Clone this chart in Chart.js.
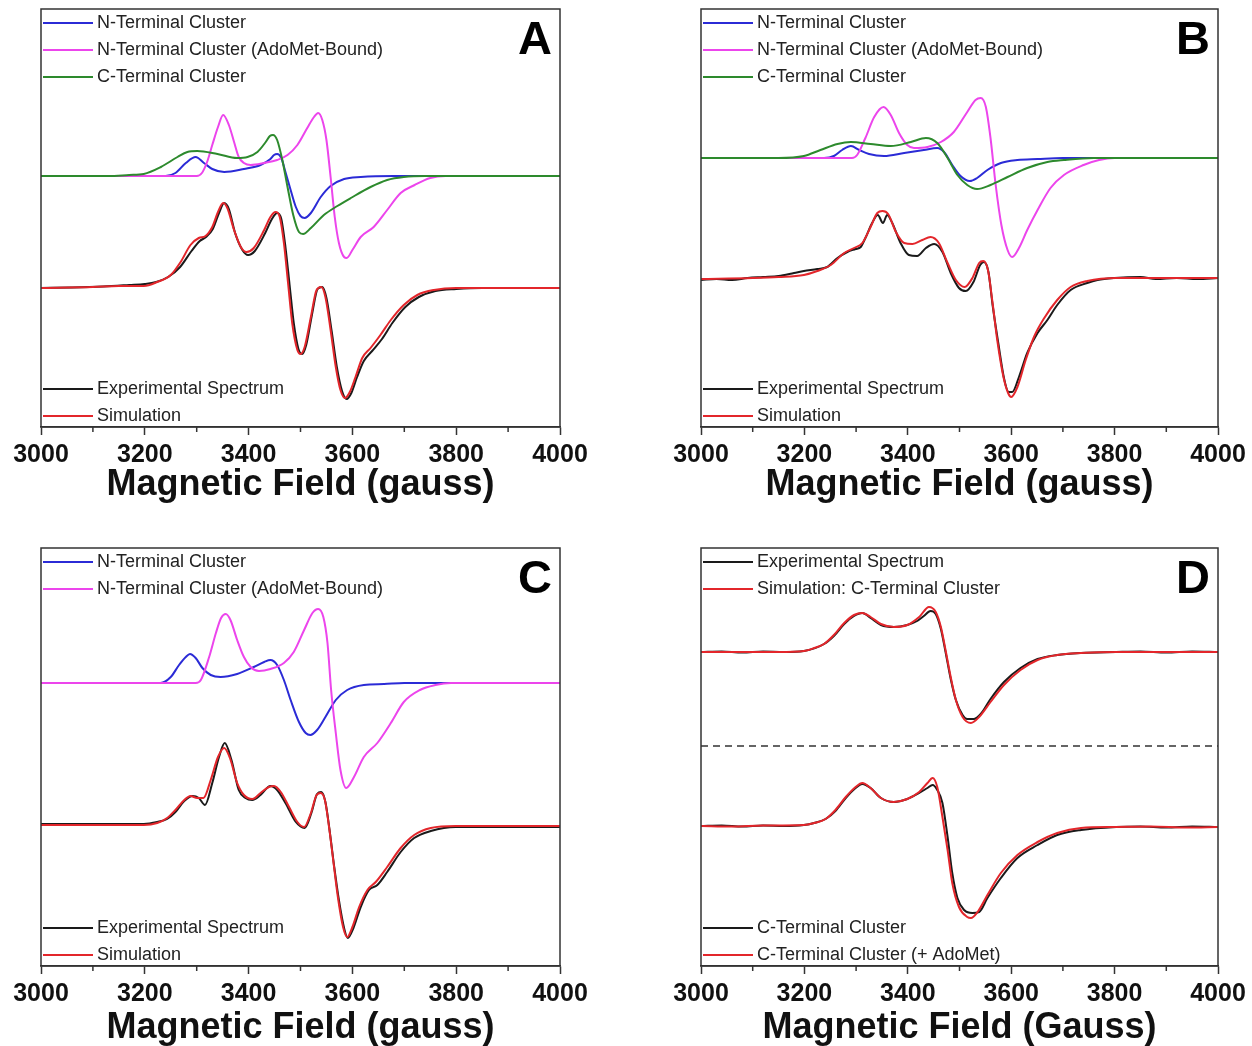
<!DOCTYPE html>
<html>
<head>
<meta charset="utf-8">
<script src="https://cdn.jsdelivr.net/npm/chart.js@4.4.0/dist/chart.umd.min.js"></script>
<style>
  html, body { margin: 0; padding: 0; background: #fff; width: 1252px; height: 1046px; overflow: hidden; }
  .panel { position: absolute; width: 626px; height: 523px; }
</style>
</head>
<body>
<div class="panel" style="left:0;top:0"><canvas id="chartA" width="626" height="523"></canvas></div>
<div class="panel" style="left:626px;top:0"><canvas id="chartB" width="626" height="523"></canvas></div>
<div class="panel" style="left:0;top:539px"><canvas id="chartC" width="626" height="523"></canvas></div>
<div class="panel" style="left:626px;top:539px"><canvas id="chartD" width="626" height="523"></canvas></div>
<script>
// field axis (gauss)
const fieldMin = 3000;
const fieldMax = 4000;
const fieldLabels = [3000, 3200, 3400, 3600, 3800, 4000];

// colours
const BLUE = '#2b2bd6';
const MAGENTA = '#ec45ec';
const GREEN = '#2d8a2d';
const RED = '#e3262b';
const BLACK = '#1a1a1a';

// Panel A  -  [field, signal] pairs, signal in arbitrary units (box height = 418)
const aBlue = [[3000,251],[3240,251],[3259,254],[3279,264],[3298,270],[3314,264],[3330,258],[3353,255],[3391,258],[3423,262],[3442,268],[3449,272],[3455,273],[3463,269],[3471,255],[3481,237],[3491,220],[3500,211],[3508,209],[3520,214],[3539,230],[3558,241],[3584,248],[3616,250],[3680,251],[4000,251]];
const aMagenta = [[3000,251],[3300,251],[3310,254],[3320,265],[3330,282],[3341,300],[3351,312],[3362,302],[3372,285],[3381,270],[3391,264],[3404,262],[3430,264],[3455,267],[3475,272],[3494,282],[3513,299],[3526,310],[3534,314],[3542,307],[3550,287],[3558,250],[3566,210],[3574,184],[3584,170],[3589,169],[3600,177],[3616,190],[3641,200],[3667,217],[3693,234],[3720,242],[3750,249],[3780,251],[4000,251]];
const aGreen = [[3000,251],[3130,251],[3170,252],[3198,253],[3231,260],[3263,270],[3282,275],[3301,276],[3340,273],[3378,269],[3398,270],[3417,275],[3433,285],[3441,291],[3447,292],[3455,287],[3465,267],[3475,240],[3486,212],[3497,195],[3505,193],[3520,199],[3545,212],[3571,221],[3597,229],[3635,240],[3667,247],[3699,250],[3740,251],[4000,251]];
const aExp = [[3000,139],[3060,139.5],[3120,140.5],[3170,142],[3200,143],[3222,145],[3245,150],[3268,160],[3290,176],[3306,186],[3318,190],[3331,198],[3343,214],[3353,224],[3362,218],[3374,194],[3388,177],[3399,172],[3412,176],[3432,194],[3445,208],[3455,214],[3463,208],[3471,180],[3479,142],[3487,104],[3496,78],[3503,73],[3511,82],[3522,112],[3533,138],[3542,140],[3550,129],[3560,96],[3570,60],[3580,36],[3589,28],[3598,34],[3609,50],[3622,66],[3638,76],[3657,88],[3677,104],[3702,120],[3728,130],[3760,136],[3800,138],[3850,139],[3900,139],[4000,139]];
const aSim = [[3000,139],[3100,140],[3150,141],[3198,141],[3224,145],[3250,152],[3269,165],[3288,182],[3304,189],[3317,191],[3330,200],[3341,215],[3351,224],[3359,219],[3372,197],[3385,180],[3396,175],[3410,179],[3430,197],[3442,210],[3452,215],[3460,210],[3468,184],[3476,144],[3484,104],[3494,77],[3500,73],[3508,80],[3520,110],[3531,137],[3540,140],[3548,130],[3558,97],[3568,60],[3577,37],[3586,29],[3595,35],[3606,50],[3619,69],[3635,79],[3654,92],[3674,107],[3699,122],[3725,132],[3757,137],[3800,139],[4000,139]];

// Panel B
const bBlue = [[3000,269],[3238,269],[3257,271],[3273,277],[3290,281],[3306,277],[3325,273],[3354,271],[3393,274],[3431,277],[3457,279],[3470,275],[3486,262],[3502,251],[3520,246],[3534,249],[3554,257],[3580,264],[3612,267],[3651,268],[3700,269],[4000,269]];
const bMagenta = [[3000,269],[3292,269],[3302,272],[3318,289],[3335,310],[3353,320],[3367,312],[3383,294],[3399,282],[3412,279],[3438,280],[3464,285],[3489,295],[3515,315],[3531,327],[3541,329],[3551,320],[3560,289],[3570,242],[3581,202],[3593,177],[3602,170],[3615,179],[3631,197],[3651,217],[3676,239],[3702,252],[3740,262],[3770,267],[3800,269],[4000,269]];
const bGreen = [[3000,269],[3150,269],[3199,271],[3231,277],[3264,283],[3290,285],[3328,283],[3367,281],[3406,285],[3435,289],[3457,284],[3477,269],[3496,252],[3515,242],[3534,238],[3560,242],[3593,250],[3631,259],[3670,265],[3702,267],[3760,269],[4000,269]];
const bExp = [[3000,147],[3030,148],[3060,147],[3090,149],[3120,150],[3150,151],[3180,154],[3199,156],[3225,158],[3244,160],[3264,169],[3283,175],[3299,178],[3309,180],[3318,189],[3331,204],[3342,212],[3352,204],[3360,212],[3370,204],[3386,184],[3402,172],[3418,171],[3435,179],[3451,183],[3467,175],[3483,154],[3499,139],[3512,136],[3527,145],[3540,162],[3547,165],[3556,155],[3564,122],[3575,84],[3586,49],[3595,35],[3602,35],[3615,50],[3631,74],[3651,94],[3670,107],[3689,122],[3715,137],[3747,144],[3767,147],[3800,149],[3850,150],[3880,148],[3920,149],[3960,148],[4000,149]];
const bSim = [[3000,148],[3100,149],[3150,150],[3199,152],[3225,156],[3251,162],[3277,174],[3296,179],[3312,184],[3328,200],[3341,214],[3351,216],[3362,213],[3377,195],[3393,184],[3409,183],[3428,187],[3444,190],[3460,184],[3477,164],[3493,147],[3510,140],[3525,149],[3538,164],[3546,166],[3555,157],[3564,124],[3573,87],[3585,50],[3594,34],[3600,30],[3612,40],[3628,67],[3644,90],[3664,109],[3689,127],[3715,140],[3747,146],[3803,149],[4000,149]];

// Panel C
const cBlue = [[3000,283],[3230,283],[3250,289],[3266,301],[3279,309],[3287,312],[3298,308],[3311,298],[3327,291],[3346,289],[3378,292],[3410,299],[3430,304],[3442,306],[3455,301],[3468,286],[3481,266],[3497,244],[3510,233],[3519,231],[3532,236],[3548,249],[3568,266],[3590,276],[3622,281],[3661,282],[3700,283],[4000,283]];
const cMagenta = [[3000,283],[3298,283],[3308,286],[3324,309],[3337,333],[3347,348],[3356,352],[3365,346],[3378,326],[3391,309],[3404,299],[3420,295],[3442,297],[3468,303],[3487,314],[3507,336],[3523,353],[3534,357],[3544,349],[3552,323],[3559,276],[3568,233],[3577,196],[3588,178],[3603,189],[3622,209],[3648,223],[3674,243],[3699,264],[3730,276],[3760,281],[3790,283],[4000,283]];
const cExp = [[3000,142],[3150,142],[3198,142],[3224,144],[3243,147],[3259,154],[3276,165],[3292,170],[3304,168],[3316,161],[3330,183],[3343,209],[3354,223],[3367,206],[3381,176],[3394,168],[3407,166],[3423,171],[3442,180],[3455,176],[3471,163],[3491,144],[3508,138],[3521,153],[3532,172],[3540,174],[3548,164],[3556,136],[3564,103],[3574,66],[3584,38],[3591,28],[3602,38],[3616,59],[3632,76],[3648,81],[3667,94],[3693,114],[3719,128],[3751,135],[3799,139],[4000,139]];
const cSim = [[3000,141],[3150,141],[3198,141],[3224,143],[3243,148],[3259,156],[3276,166],[3288,170],[3301,168],[3313,168],[3327,186],[3341,209],[3353,218],[3364,208],[3378,183],[3391,171],[3407,167],[3423,173],[3439,179],[3449,180],[3462,174],[3478,159],[3494,144],[3507,139],[3520,153],[3531,171],[3539,173],[3547,166],[3555,139],[3563,106],[3572,69],[3582,39],[3590,29],[3600,39],[3613,59],[3629,76],[3645,84],[3667,99],[3693,118],[3719,131],[3751,138],[3799,140],[4000,140]];

// Panel D
const dTopExp = [[3000,314],[3040,314.5],[3080,313.5],[3120,314.5],[3160,314],[3199,315],[3238,322],[3257,330],[3277,342],[3296,350],[3312,353],[3328,348],[3348,341],[3373,339],[3399,341],[3418,345],[3431,350],[3444,355],[3454,352],[3464,337],[3473,314],[3483,287],[3493,266],[3506,251],[3515,247],[3528,247],[3541,252],[3560,267],[3586,284],[3618,298],[3651,307],[3689,311],[3735,313],[3803,314],[3850,314.5],[3900,313.5],[3950,314.5],[4000,314]];
const dTopSim = [[3000,314],[3150,314],[3199,315],[3219,318],[3238,322],[3257,331],[3277,343],[3296,351],[3312,353],[3328,349],[3348,342],[3373,339],[3399,341],[3422,349],[3441,359],[3454,354],[3464,339],[3473,316],[3483,289],[3493,266],[3506,249],[3522,243],[3538,249],[3560,264],[3586,281],[3618,296],[3651,306],[3689,311],[3735,313],[3803,314],[4000,314]];
const dBotNoAdoMet = [[3000,140],[3040,140.5],[3080,139.5],[3120,140.5],[3160,140],[3199,141],[3219,143],[3241,147],[3260,155],[3280,168],[3299,178],[3312,182],[3328,178],[3348,168],[3373,164],[3399,167],[3422,173],[3438,178],[3448,181],[3457,176],[3467,163],[3477,129],[3486,93],[3496,68],[3509,56],[3525,53],[3538,54],[3554,68],[3580,88],[3612,108],[3651,121],[3689,131],[3735,136],[3803,139],[3850,139.5],[3900,138.5],[3950,139.5],[4000,139]];
const dBotAdoMet = [[3000,140],[3060,139.5],[3120,140.5],[3199,141],[3219,143],[3241,147],[3260,156],[3280,169],[3299,179],[3312,183],[3328,178],[3348,168],[3373,164],[3399,167],[3422,174],[3438,183],[3448,188],[3457,179],[3467,149],[3477,116],[3486,83],[3499,59],[3515,49],[3522,48],[3535,54],[3554,71],[3580,93],[3612,111],[3651,124],[3689,133],[3735,138],[3803,139],[3870,139.5],[3940,138.5],[4000,139]];
const dDivider = [[3000,220],[4000,220]];

const toXY = pairs => pairs.map(p => ({ x: p[0], y: p[1] }));

// frame, minor ticks, the two legend blocks and the panel letter
const panelDecor = {
  id: 'panelDecor',
  afterDraw(chart, args, opts) {
    const { ctx, chartArea: a, scales: { x } } = chart;
    ctx.save();
    ctx.strokeStyle = '#333';
    ctx.lineWidth = 1.5;
    ctx.strokeRect(a.left, a.top, a.right - a.left, a.bottom - a.top);

    x.ticks.forEach(t => {
      if (fieldLabels.includes(t.value)) return;
      const px = x.getPixelForValue(t.value);
      ctx.beginPath();
      ctx.moveTo(px, a.bottom);
      ctx.lineTo(px, a.bottom + 5);
      ctx.stroke();
    });

    const drawItem = (d, y) => {
      ctx.strokeStyle = d.borderColor;
      ctx.lineWidth = 2;
      ctx.beginPath();
      ctx.moveTo(a.left + 2, y);
      ctx.lineTo(a.left + 52, y);
      ctx.stroke();
      ctx.fillStyle = '#222';
      ctx.fillText(d.label, a.left + 56, y);
    };
    ctx.font = '18px "Liberation Sans", Arial, sans-serif';
    ctx.textBaseline = 'middle';
    ctx.textAlign = 'left';
    const top = chart.data.datasets.filter(d => d.group === 'top');
    const bottom = chart.data.datasets.filter(d => d.group === 'bottom');
    top.forEach((d, i) => drawItem(d, a.top + 14 + i * 27));
    bottom.forEach((d, i) => drawItem(d, a.bottom - 11 - (bottom.length - 1 - i) * 27));

    ctx.font = 'bold 47px "Liberation Sans", Arial, sans-serif';
    ctx.textAlign = 'right';
    ctx.fillStyle = '#000';
    ctx.fillText(opts.letter, a.right - 8, a.top + 32);
    ctx.restore();
  }
};

function buildPanel(p) {
  const datasets = p.series.map(s => ({
    label: s.label,
    data: toXY(s.data),
    borderColor: s.color,
    borderWidth: s.width || 2,
    borderDash: s.dash || [],
    order: s.order || 0,
    group: s.group,
    pointRadius: 0,
    fill: false,
    cubicInterpolationMode: 'monotone'
  }));
  return new Chart(document.getElementById(p.id), {
    type: 'line',
    data: { datasets },
    options: {
      responsive: false,
      animation: false,
      layout: { padding: p.padding },
      plugins: {
        legend: { display: false },
        tooltip: { enabled: false },
        panelDecor: { letter: p.letter }
      },
      scales: {
        x: {
          type: 'linear',
          min: fieldMin,
          max: fieldMax,
          ticks: {
            stepSize: 100,
            autoSkip: false,
            maxRotation: 0,
            padding: 5,
            color: '#111',
            font: { family: '"Liberation Sans", Arial, sans-serif', size: 25, weight: 'bold' },
            callback: v => fieldLabels.includes(v) ? String(v) : ''
          },
          grid: {
            drawOnChartArea: false,
            tickLength: 8,
            tickWidth: 1.5,
            tickColor: ctx => (ctx.tick && fieldLabels.includes(ctx.tick.value)) ? '#333' : 'rgba(0,0,0,0)'
          },
          border: { color: '#333', width: 1.5 },
          title: {
            display: true,
            text: p.xTitle,
            color: '#111',
            font: { family: '"Liberation Sans", Arial, sans-serif', size: 36, weight: 'bold' },
            padding: { top: 0, bottom: p.titlePad }
          },
          afterFit: scale => { scale.height = 96; }
        },
        y: { display: false, min: 0, max: 418 }
      }
    },
    plugins: [panelDecor]
  });
}

const nBlue = 'N-Terminal Cluster';
const nMag = 'N-Terminal Cluster (AdoMet-Bound)';
const cGreen = 'C-Terminal Cluster';

buildPanel({
  id: 'chartA', letter: 'A', xTitle: 'Magnetic Field (gauss)', titlePad: 16,
  padding: { left: 41, right: 66, top: 9, bottom: 0 },
  series: [
    { label: nBlue, data: aBlue, color: BLUE, group: 'top', order: 2 },
    { label: nMag, data: aMagenta, color: MAGENTA, group: 'top', order: 1 },
    { label: cGreen, data: aGreen, color: GREEN, group: 'top', order: 0 },
    { label: 'Experimental Spectrum', data: aExp, color: BLACK, group: 'bottom', order: 3 },
    { label: 'Simulation', data: aSim, color: RED, group: 'bottom', order: 0 }
  ]
});

buildPanel({
  id: 'chartB', letter: 'B', xTitle: 'Magnetic Field (gauss)', titlePad: 16,
  padding: { left: 75, right: 34, top: 9, bottom: 0 },
  series: [
    { label: nBlue, data: bBlue, color: BLUE, group: 'top', order: 2 },
    { label: nMag, data: bMagenta, color: MAGENTA, group: 'top', order: 1 },
    { label: cGreen, data: bGreen, color: GREEN, group: 'top', order: 0 },
    { label: 'Experimental Spectrum', data: bExp, color: BLACK, group: 'bottom', order: 3 },
    { label: 'Simulation', data: bSim, color: RED, group: 'bottom', order: 0 }
  ]
});

buildPanel({
  id: 'chartC', letter: 'C', xTitle: 'Magnetic Field (gauss)', titlePad: 12,
  padding: { left: 41, right: 66, top: 9, bottom: 0 },
  series: [
    { label: nBlue, data: cBlue, color: BLUE, group: 'top', order: 1 },
    { label: nMag, data: cMagenta, color: MAGENTA, group: 'top', order: 0 },
    { label: 'Experimental Spectrum', data: cExp, color: BLACK, group: 'bottom', order: 3 },
    { label: 'Simulation', data: cSim, color: RED, group: 'bottom', order: 0 }
  ]
});

buildPanel({
  id: 'chartD', letter: 'D', xTitle: 'Magnetic Field (Gauss)', titlePad: 12,
  padding: { left: 75, right: 34, top: 9, bottom: 0 },
  series: [
    { label: 'Experimental Spectrum', data: dTopExp, color: BLACK, group: 'top', order: 3 },
    { label: 'Simulation: C-Terminal Cluster', data: dTopSim, color: RED, group: 'top', order: 0 },
    { label: 'C-Terminal Cluster', data: dBotNoAdoMet, color: BLACK, group: 'bottom', order: 3 },
    { label: 'C-Terminal Cluster (+ AdoMet)', data: dBotAdoMet, color: RED, group: 'bottom', order: 0 },
    { label: 'divider', data: dDivider, color: '#333', width: 1.3, dash: [7, 5], order: 4 }
  ]
});
</script>
</body>
</html>
